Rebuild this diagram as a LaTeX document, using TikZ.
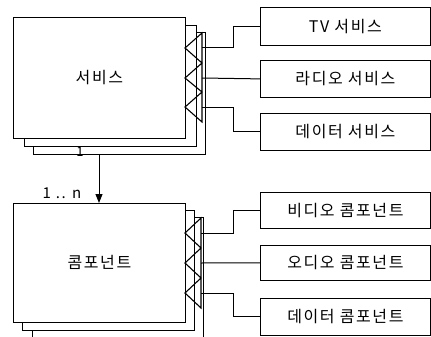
\documentclass[tikz,border=0pt]{standalone}
\usepackage{fontspec}
\setmainfont{Noto Sans CJK KR}[LetterSpace=10]
\usetikzlibrary{arrows.meta}
\begin{document}
\begin{tikzpicture}[x=1pt,y=-1pt,
  box/.style={draw, line width=0.8pt, fill=white, inner sep=0pt, anchor=north west, font=\fontsize{16}{18}\selectfont},
  stack/.style={draw, line width=0.8pt, fill=white, inner sep=0pt, anchor=north west},
  tri/.style={draw, line width=1.1pt, line join=miter},
  link/.style={draw, line width=1pt},
  lbl/.style={inner sep=0pt, font=\fontsize{15}{17}\selectfont}]
\useasboundingbox (0,0) rectangle (431,337);

% service stack
\node[stack, minimum width=172pt, minimum height=122pt] (svcC) at (33,32) {};
\node[stack, minimum width=172pt, minimum height=121pt] (svcB) at (24,25) {};
\node[box, minimum width=172pt, minimum height=121pt] (svc) at (13,17) {서비스};
\draw[tri] (202,33) -- (185,48) -- (202,63) -- (185,78) -- (202,92) -- (185,107) -- (202,122) -- cycle;
\coordinate (s1) at (202,48);
\coordinate (s2) at (202,78);
\coordinate (s3) at (202,107);

\node[box, minimum width=170pt, minimum height=38pt] (tv) at (260,7) {TV 서비스};
\node[box, minimum width=170pt, minimum height=37pt] (radio) at (260,60) {라디오 서비스};
\node[box, minimum width=170pt, minimum height=37pt] (sdata) at (260,113) {데이터 서비스};

\draw[link] (s1) -- ++(31,0) |- (tv.west);
\draw[link] (s2) -- (radio.west);
\draw[link] (s3) -- ++(31,0) |- (sdata.west);

% component stack
\draw[line width=0.8pt] (32,340) |- (203,217) -- (203,340);
\node[stack, minimum width=172pt, minimum height=120pt] (cmpB) at (22,210) {};
\node[box, minimum width=172pt, minimum height=119pt] (cmp) at (13,203) {콤포넌트};
\draw[tri] (201,218) -- (185,233) -- (201,248) -- (185,263) -- (201,278) -- (185,293) -- (201,308) -- cycle;
\coordinate (c1) at (201,233);
\coordinate (c2) at (201,263);
\coordinate (c3) at (201,293);

\node[box, minimum width=170pt, minimum height=36pt] (video) at (260,192) {비디오 콤포넌트};
\node[box, minimum width=170pt, minimum height=35pt] (audio) at (260,245) {오디오 콤포넌트};
\node[box, minimum width=170pt, minimum height=37pt] (cdata) at (260,298) {데이터 콤포넌트};

\draw[link] (c1) -- ++(32,0) |- (video.west);
\draw[link] (c2) -- (audio.west);
\draw[link] (c3) -- ++(32,0) |- (cdata.west);

% association
\coordinate (a0) at (99,154);
\draw[link, -{Triangle[length=9pt,width=7pt]}] (a0) -- (cmp.north -| a0);
\node[lbl, font=\fontsize{13}{15}\selectfont] (one) at (80,152) {1};
\node[lbl] (many) at (62,193) {1 .. n};
\end{tikzpicture}
\end{document}
